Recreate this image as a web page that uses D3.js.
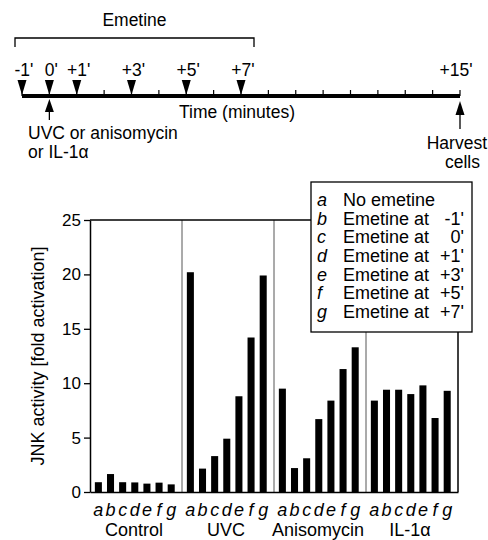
<!DOCTYPE html>
<html><head><meta charset="utf-8">
<script src="https://cdn.jsdelivr.net/npm/d3@7"></script>
<style>
body{margin:0;background:#fff;}
svg{display:block;font-family:"Liberation Sans",Arial,sans-serif;}
</style></head>
<body>
<svg id="c" width="488" height="540"></svg>
<script>
// ---- data ----
const groups = ["Control", "UVC", "Anisomycin", "IL-1\u03b1"];
const letters = ["a", "b", "c", "d", "e", "f", "g"];
const control = [0.9, 1.65, 0.9, 0.88, 0.77, 0.86, 0.7];
const uvc = [20.2, 2.15, 3.3, 4.9, 8.8, 14.2, 19.9];
const anisomycin = [9.5, 2.2, 3.1, 6.7, 8.4, 11.3, 13.3];
const il1a = [8.4, 9.4, 9.4, 9.0, 9.8, 6.8, 9.3];
const yTicks = [0, 5, 10, 15, 20, 25];
const legendLabels = ["No emetine", "Emetine at", "Emetine at", "Emetine at", "Emetine at", "Emetine at", "Emetine at"];
const legendTimes = ["", "-1'", "0'", "+1'", "+3'", "+5'", "+7'"];
const emetineTimes = [-1, 0, 1, 3, 5, 7];
const emetineLabels = ["-1'", "0'", "+1'", "+3'", "+5'", "+7'"];
const minuteTicks = d3.range(-1, 16);

const seriesByGroup = [control, uvc, anisomycin, il1a];

(function () {
const svg = d3.select("#c");
const FS = 17.5, FC = 18;

// ---- timeline ----
const xT = d3.scaleLinear().domain([-1, 15]).range([22, 460]);
const tl = svg.append("g");
const lineY = 96;
const bx0 = xT(-1) - 7, bx1 = xT(7) + 13;
tl.append("path").attr("d", `M${bx0},47V38H${bx1}V47`).attr("fill", "none").attr("stroke", "#000").attr("stroke-width", 1.3);
tl.append("text").attr("x", (bx0 + bx1) / 2).attr("y", 26).attr("text-anchor", "middle").attr("font-size", FS).text("Emetine");
tl.append("line").attr("x1", xT(-1)).attr("x2", xT(15)).attr("y1", lineY).attr("y2", lineY).attr("stroke", "#000").attr("stroke-width", 4);
tl.selectAll(".mt").data(minuteTicks).join("line")
  .attr("x1", d => xT(d)).attr("x2", d => xT(d)).attr("y1", lineY - 6).attr("y2", lineY).attr("stroke", "#000").attr("stroke-width", 1.2);
tl.selectAll(".da").data(emetineTimes).join("path")
  .attr("d", d => `M${xT(d) - 4.5},80L${xT(d) + 4.5},80L${xT(d)},95Z`).attr("fill", "#000");
tl.selectAll(".dl").data(emetineTimes).join("text")
  .attr("x", d => xT(d) + 2).attr("y", 76).attr("text-anchor", "middle").attr("font-size", FS)
  .text((d, i) => emetineLabels[i]);
tl.append("text").attr("x", xT(15) - 4).attr("y", 76).attr("text-anchor", "middle").attr("font-size", FS).text("+15'");
tl.append("text").attr("x", 237).attr("y", 118).attr("text-anchor", "middle").attr("font-size", FS).text("Time (minutes)");
function upArrow(x, tip, base, end) {
  tl.append("path").attr("d", `M${x - 4.5},${base}L${x + 4.5},${base}L${x},${tip}Z`).attr("fill", "#000");
  tl.append("line").attr("x1", x).attr("x2", x).attr("y1", base).attr("y2", end).attr("stroke", "#000").attr("stroke-width", 1.3);
}
upArrow(xT(0), 99, 112, 120);
upArrow(xT(15), 101, 115, 129);
tl.append("text").attr("x", 28).attr("y", 139).attr("font-size", FS).text("UVC or anisomycin");
tl.append("text").attr("x", 28).attr("y", 158).attr("font-size", FS).text("or IL-1\u03b1");
tl.append("text").attr("x", 487).attr("y", 149).attr("text-anchor", "end").attr("font-size", FS).text("Harvest");
tl.append("text").attr("x", 480).attr("y", 168).attr("text-anchor", "end").attr("font-size", FS).text("cells");

// ---- bar chart ----
const pLeft = 90, pRight = 458, pTop = 220, pBottom = 492;
const y = d3.scaleLinear().domain([0, 25]).range([pBottom, pTop]);
const xg = d3.scaleBand().domain(groups).range([pLeft, pRight]).padding(0);
const xi = d3.scaleBand().domain(letters).range([0, xg.bandwidth()]).paddingInner(0.42).paddingOuter(0.5).align(0.4);

const chart = svg.append("g");
chart.selectAll(".dv").data(groups.slice(1)).join("line")
  .attr("x1", d => xg(d)).attr("x2", d => xg(d)).attr("y1", pTop).attr("y2", pBottom)
  .attr("stroke", "#444").attr("stroke-width", 0.9);
chart.append("line").attr("x1", pLeft).attr("x2", pRight).attr("y1", pTop).attr("y2", pTop).attr("stroke", "#000").attr("stroke-width", 1.5);
chart.append("line").attr("x1", pRight).attr("x2", pRight).attr("y1", pTop).attr("y2", pBottom).attr("stroke", "#000").attr("stroke-width", 1.5);

groups.forEach((g, gi) => {
  chart.append("g").selectAll("rect").data(seriesByGroup[gi]).join("rect")
    .attr("x", (d, i) => xg(g) + xi(letters[i]))
    .attr("width", xi.bandwidth())
    .attr("y", d => y(d))
    .attr("height", d => y(0) - y(d))
    .attr("fill", "#000");
  chart.append("g").selectAll("text").data(letters).join("text")
    .attr("x", d => xg(g) + xi(d) + xi.bandwidth() / 2)
    .attr("y", 516).attr("text-anchor", "middle").attr("font-size", FC).attr("font-style", "italic")
    .text(d => d);
  chart.append("text").attr("x", xg(g) + xg.bandwidth() / 2 - 2).attr("y", 536)
    .attr("text-anchor", "middle").attr("font-size", FC).text(g);
});

const yAxis = d3.axisLeft(y).tickValues(yTicks).tickSize(6).tickPadding(3).tickSizeOuter(0);
const ya = chart.append("g").attr("transform", `translate(${pLeft},0)`).call(yAxis);
ya.select(".domain").attr("stroke-width", 1.5);
ya.selectAll("line").attr("stroke-width", 1.3);
ya.selectAll("text").attr("font-size", 17).attr("font-family", "Liberation Sans, Arial, sans-serif");
const xAxis = d3.axisBottom(xg).tickValues([]).tickSizeOuter(0);
const xa = chart.append("g").attr("transform", `translate(0,${pBottom})`).call(xAxis);
xa.select(".domain").attr("stroke-width", 1.5);

chart.append("text").attr("transform", `translate(44,${(pTop + pBottom) / 2}) rotate(-90)`)
  .attr("text-anchor", "middle").attr("font-size", FC).text("JNK activity [fold activation]");

const lg = svg.append("g");
const lx0 = 311, lx1 = 472, ly0 = 182, ly1 = 332;
lg.append("rect").attr("x", lx0).attr("y", ly0).attr("width", lx1 - lx0).attr("height", ly1 - ly0)
  .attr("fill", "#fff").attr("stroke", "#000").attr("stroke-width", 1.3);
const ly = d3.scalePoint().domain(letters).range([206, 318]);
lg.selectAll(".ll").data(letters).join("text")
  .attr("x", 317).attr("y", d => ly(d)).attr("font-size", FC).attr("font-style", "italic").text(d => d);
lg.selectAll(".lt").data(letters).join("text")
  .attr("x", 343).attr("y", d => ly(d)).attr("font-size", FC).text((d, i) => legendLabels[i]);
lg.selectAll(".lv").data(letters).join("text")
  .attr("x", 464).attr("y", d => ly(d)).attr("text-anchor", "end").attr("font-size", FC).text((d, i) => legendTimes[i]);
})();
</script>
</body></html>
